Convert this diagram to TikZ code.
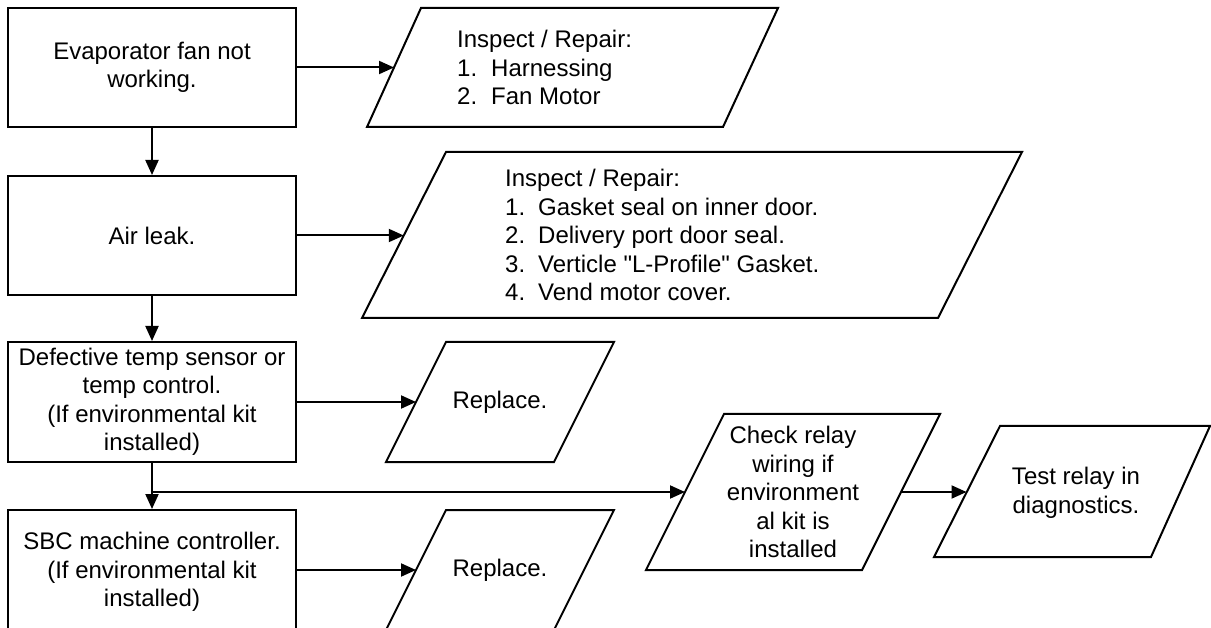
\documentclass[tikz,border=0pt]{standalone}
\usepackage{fontspec}
\setmainfont{Liberation Sans}[Ligatures=TeXOff]
\usetikzlibrary{arrows.meta}
\begin{document}
\begin{tikzpicture}[x=1pt,y=-1pt,
  every node/.style={font=\fontsize{24}{28.5}\selectfont},
  box/.style={draw,line width=2pt,rectangle,minimum width=288pt,inner sep=0pt,align=center},
  shp/.style={draw,line width=2pt,line join=miter},
  lbl/.style={inner sep=0pt,align=center},
  arr/.style={line width=2pt,-{Triangle[length=15pt,width=13pt]}},
  txt/.style={align=left,inner sep=0pt}]
\clip (0,0) rectangle (1211,628);
\fill[white] (0,0) rectangle (1211,628);
% left column
\node[box,minimum height=119pt] (b1) at (152,67.5) {Evaporator fan not\\working.};
\node[box,minimum height=119pt] (b2) at (152,235.5) {Air leak.};
\node[box,minimum height=120pt] (b3) at (152,402) {Defective temp sensor or\\temp control.\\(If environmental kit\\installed)};
\node[box,minimum height=124pt] (b4) at (152,572) {SBC machine controller.\\(If environmental kit\\installed)};
% parallelogram 1
\draw[shp] (421,8) -- (778,8) -- (723,127) -- (367,127) -- cycle;
\coordinate (p1in) at (394,67.5);
\node[txt,anchor=west] (t1) at (457,67.5) {Inspect / Repair:\\\makebox[34pt][l]{1.}Harnessing\\\makebox[34pt][l]{2.}Fan Motor};
% parallelogram 2
\draw[shp] (446,152) -- (1022,152) -- (938,318) -- (362,318) -- cycle;
\coordinate (p2in) at (403.75,235.5);
\node[txt,anchor=west] (t2) at (505,235) {Inspect / Repair:\\\makebox[33pt][l]{1.}Gasket seal on inner door.\\\makebox[33pt][l]{2.}Delivery port door seal.\\\makebox[33pt][l]{3.}Verticle "L-Profile" Gasket.\\\makebox[33pt][l]{4.}Vend motor cover.};
% replace 1
\draw[shp] (446,342) -- (614,342) -- (554,462) -- (386,462) -- cycle;
\coordinate (r1in) at (416,402);
\node[lbl] (tr1) at (500,402) {Replace.};
% replace 2
\draw[shp] (446,510) -- (614,510) -- (554,630) -- (386,630) -- cycle;
\coordinate (r2in) at (416,570);
\node[lbl] (tr2) at (500,570) {Replace.};
% check relay
\draw[shp] (724,414) -- (940,414) -- (862,570) -- (646,570) -- cycle;
\coordinate (chin) at (685,492);
\coordinate (chout) at (901,492);
\node[lbl] (tch) at (793,492) {Check relay\\wiring if\\environment\\al kit is\\installed};
% test relay
\draw[shp] (1000,426) -- (1210,426) -- (1151,557) -- (934,557) -- cycle;
\coordinate (tein) at (966.5,492);
\node[lbl] (tte) at (1076,493) {Test relay in\\diagnostics.};
% connectors
\draw[arr] (b1) -- (p1in);
\draw[arr] (b1) -- (b2);
\draw[arr] (b2) -- (p2in);
\draw[arr] (b2) -- (b3);
\draw[arr] (b3) -- (r1in);
\draw[arr] (b3) -- (b4);
\coordinate (j) at (152,492);
\draw[arr] (j) -- (chin);
\draw[arr] (chout) -- (tein);
\draw[arr] (b4.east |- r2in) -- (r2in);
\end{tikzpicture}
\end{document}
